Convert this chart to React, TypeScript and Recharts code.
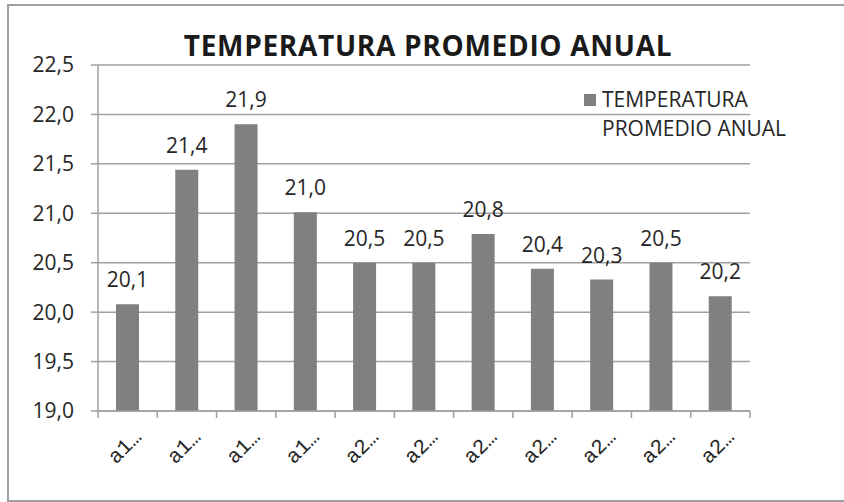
import { BarChart, Bar, XAxis, YAxis, CartesianGrid, LabelList } from "recharts";

const categories = ["a1…", "a1…", "a1…", "a1…", "a2…", "a2…", "a2…", "a2…", "a2…", "a2…", "a2…"];
const temperatures = [20.08, 21.44, 21.9, 21.01, 20.5, 20.5, 20.79, 20.44, 20.33, 20.5, 20.16];
const yTicks = [19, 19.5, 20, 20.5, 21, 21.5, 22, 22.5];
const seriesName = "TEMPERATURA PROMEDIO ANUAL";

const data = categories.map((name, i) => ({ name, value: temperatures[i] }));

const W = 844;
const H = 502;
const margin = { top: 65, right: 94, left: 0, bottom: 0 };
const yAxisWidth = 98;
const xAxisHeight = 91;
const step = (W - yAxisWidth - margin.right) / categories.length;

const textColor = "#262626";
const gridColor = "#a0a0a0";
const barColor = "#808080";
const font = "'Open Sans', sans-serif";

const fmt = (v: number) => v.toFixed(1).replace(".", ",");

// Excel-style category axis: tick marks on the boundaries, labels tilted 45°
function renderXTick(props: any) {
  const { x, y, payload, index, visibleTicksCount } = props;
  const last = index === visibleTicksCount - 1;
  const tx = x + 15;
  const ty = y + 27;
  return (
    <g key={`xt-${index}`}>
      <line x1={x - step / 2} x2={x - step / 2} y1={y} y2={y + 7} stroke={gridColor} strokeWidth={1.5} />
      {last && <line x1={x + step / 2} x2={x + step / 2} y1={y} y2={y + 7} stroke={gridColor} strokeWidth={1.5} />}
      <g transform={`translate(${tx} ${ty})`}>
        <g transform="rotate(-45)">
          <text x={0} y={0} textAnchor="end" fontFamily="'Liberation Mono', monospace" fontSize={21} fill={textColor}>
            {payload.value}
          </text>
        </g>
      </g>
    </g>
  );
}

const BarLabel = (props: any) => {
  const { x, y, width, value } = props;
  return (
    <text x={x + width / 2} y={y - 17} textAnchor="middle" fontFamily={font} fontSize={21} fill={textColor}>
      {fmt(value)}
    </text>
  );
};

const LegendBox = () => (
  <div
    style={{
      position: "absolute",
      left: 584,
      top: 85,
      display: "flex",
      alignItems: "flex-start",
      fontFamily: font,
      fontSize: 21,
      color: textColor,
    }}
  >
    <div style={{ width: 12, height: 12, background: barColor, marginTop: 9, marginRight: 6, flexShrink: 0 }} />
    <div style={{ lineHeight: "29px", width: 220 }}>
      TEMPERATURA
      <br />
      PROMEDIO ANUAL
    </div>
  </div>
);

export default function App() {
  return (
    <div style={{ position: "relative", width: W, height: H, overflow: "hidden", background: "#fff" }}>
      <style>{"body{margin:0}"}</style>
      <div
        style={{
          position: "absolute",
          left: 7,
          top: 4,
          width: 860,
          height: 498,
          boxSizing: "border-box",
          borderTop: `2px solid ${gridColor}`,
          borderLeft: `2px solid ${gridColor}`,
          borderBottom: `2px solid ${gridColor}`,
        }}
      />
      <div
        style={{
          position: "absolute",
          left: 0,
          width: 856,
          top: 26,
          textAlign: "center",
          fontFamily: font,
          fontWeight: 700,
          fontSize: 28,
          letterSpacing: 0.7,
          color: "#1a1a1a",
        }}
      >
        {seriesName}
      </div>
      <BarChart width={W} height={H} data={data} margin={margin} style={{ position: "absolute", left: 0, top: 0 }}>
        <CartesianGrid vertical={false} stroke={gridColor} strokeWidth={1.5} />
        <XAxis
          dataKey="name"
          height={xAxisHeight}
          axisLine={{ stroke: gridColor, strokeWidth: 1.5 }}
          tickLine={false}
          tickSize={0}
          tickMargin={0}
          interval={0}
          tick={renderXTick}
        />
        <YAxis
          width={yAxisWidth}
          domain={[19, 22.5]}
          ticks={yTicks}
          allowDataOverflow
          axisLine={{ stroke: gridColor, strokeWidth: 1.5 }}
          tickLine={{ stroke: gridColor, strokeWidth: 1.5 }}
          tickSize={7}
          tickMargin={17}
          tickFormatter={fmt}
          tick={{ fontFamily: font, fontSize: 21, fill: textColor }}
        />
        <Bar dataKey="value" name={seriesName} fill={barColor} barSize={23} isAnimationActive={false}>
          <LabelList dataKey="value" content={(p: any) => <BarLabel {...p} />} />
        </Bar>
      </BarChart>
      <LegendBox />
    </div>
  );
}
